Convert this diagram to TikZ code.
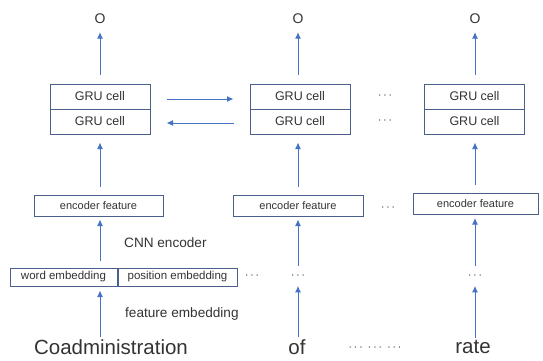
\documentclass[tikz,border=0pt]{standalone}
\usepackage{fontspec}
\setmainfont{Liberation Sans}
\usetikzlibrary{arrows.meta}

\definecolor{boxc}{HTML}{4A5F8C}
\definecolor{arrc}{HTML}{4472C4}
\definecolor{txtc}{HTML}{333333}

\begin{document}
\begin{tikzpicture}[x=1pt,y=-1pt,
        every node/.style={text=txtc,inner sep=0pt},
        cell/.style={draw=boxc,line width=1pt,minimum width=100pt,minimum height=25pt,font=\fontsize{12.5}{14}\selectfont},
        feat/.style={draw=boxc,line width=1pt,minimum height=21pt,font=\fontsize{11}{13}\selectfont},
        emb/.style={draw=boxc,line width=1pt,minimum height=18pt,font=\fontsize{11.5}{13}\selectfont},
        word/.style={font=\fontsize{20.5}{24}\selectfont},
        lbl/.style={font=\fontsize{13.6}{16}\selectfont,anchor=west},
        dots/.style={font=\fontsize{12}{14}\selectfont},
        arr/.style={draw=arrc,line width=1pt,-{Latex[length=6.5pt,width=6pt]}}]
    \useasboundingbox (0,0) rectangle (543,360);

    % outputs
    \node[font=\fontsize{14}{16}\selectfont] (o1) at (100,19) {O};
    \node[font=\fontsize{14}{16}\selectfont] (o2) at (298,19) {O};
    \node[font=\fontsize{14}{16}\selectfont] (o3) at (475,19) {O};

    % GRU layers
    \node[cell] (g1a) at (100,96.5) {GRU cell};
    \node[cell] (g1b) at (100,121.5) {GRU cell};
    \node[cell] (g2a) at (300,96.5) {GRU cell};
    \node[cell] (g2b) at (300,121.5) {GRU cell};
    \node[cell] (g3a) at (474.5,96.5) {GRU cell};
    \node[cell] (g3b) at (474.5,121.5) {GRU cell};
    \node[dots] (d1) at (385,96) {$\cdots$};
    \node[dots] (d2) at (385,121) {$\cdots$};

    % encoder features
    \node[feat,minimum width=129pt] (f1) at (98.5,205.5) {encoder feature};
    \node[feat,minimum width=130pt] (f2) at (298,205.5) {encoder feature};
    \node[feat,minimum width=125pt] (f3) at (475.5,204) {encoder feature};
    \node[dots] (d3) at (388,208) {$\cdots$};

    % embeddings
    \node[emb,minimum width=107pt] (we) at (63.5,277) {word embedding};
    \node[emb,minimum width=119pt,anchor=west] (pe) at (we.east) {position embedding};
    \node[dots] (d4) at (252,276) {$\cdots$};
    \node[dots] (d5) at (298,276) {$\cdots$};
    \node[dots] (d6) at (475,276) {$\cdots$};

    \node[lbl] (cnn) at (124,243) {CNN encoder};
    \node[lbl] (fe) at (125,314) {feature embedding};

    % words
    \node[word] (w1) at (111,347) {Coadministration};
    \node[word] (w2) at (297,347) {of};
    \node[dots] (d7) at (375,348) {$\cdots\;\cdots\;\cdots$};
    \node[word] (w3) at (473,347) {rate};

    % arrows up
    \draw[arr,shorten <=9pt,shorten >=8pt] (g1a) -- (o1);
    \draw[arr,shorten <=9pt,shorten >=8pt] (g2a.north -| o2) -- (o2);
    \draw[arr,shorten <=9pt,shorten >=8pt] (g3a.north -| o3) -- (o3);
    \draw[arr,shorten <=8pt,shorten >=8pt] (f1.north -| g1b) -- (g1b.south);
    \draw[arr,shorten <=8pt,shorten >=8pt] (f2.north -| o2) -- (g2b.south -| o2);
    \draw[arr,shorten <=8pt,shorten >=8pt] (f3.north -| o3) -- (g3b.south -| o3);
    \draw[arr,shorten <=7pt,shorten >=3pt] (we.north -| g1b) -- (f1.south -| g1b);
    \draw[arr,shorten <=7pt,shorten >=3pt] (d5) -- (f2.south -| d5);
    \draw[arr,shorten <=7pt,shorten >=3pt] (d6) -- (f3.south -| d6);
    \draw[arr,shorten <=2pt,shorten >=4pt] (w1.north -| g1b) -- (we.south -| g1b);
    \draw[arr,shorten <=2pt,shorten >=7pt] (w2.north -| d5) -- (d5);
    \draw[arr,shorten <=2pt,shorten >=7pt] (w3.north -| d6) -- (d6);

    % recurrent links
    \draw[arr,shorten <=16pt,shorten >=16pt] ([yshift=-2.5pt]g1a.east) -- ([yshift=-2.5pt]g2a.west);
    \draw[arr,shorten <=16pt,shorten >=16pt] ([yshift=-1.5pt]g2b.west) -- ([yshift=-1.5pt]g1b.east);
\end{tikzpicture}
\end{document}
